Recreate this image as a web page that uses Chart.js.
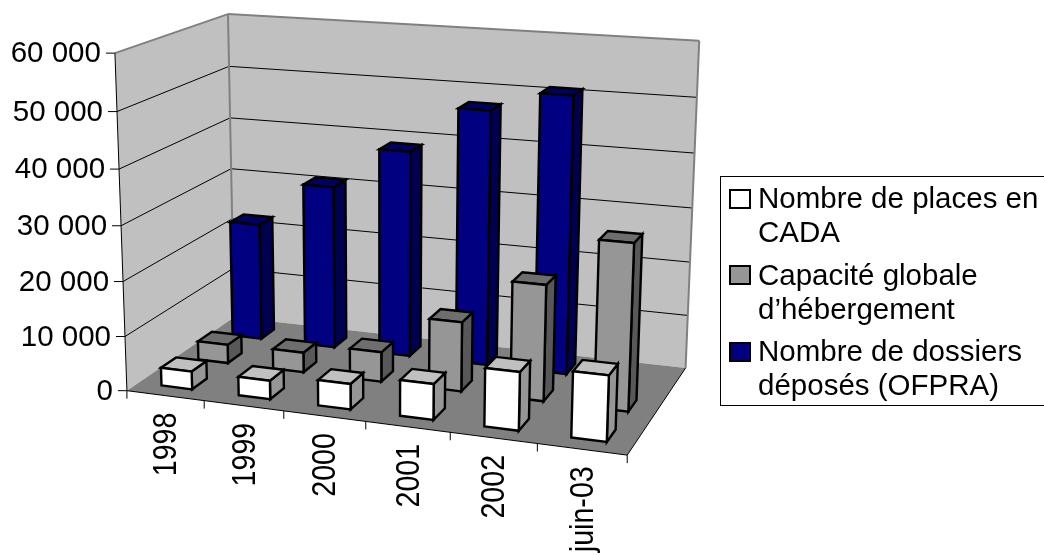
<!DOCTYPE html>
<html lang="fr">
<head>
  <meta charset="UTF-8">
  <title>Demandeurs d'asile et places d'hébergement</title>
  <style>
    html, body { margin: 0; padding: 0; background: #fff; overflow: hidden; }
    canvas { display: block; }
  </style>
  <script src="https://cdn.jsdelivr.net/npm/chart.js"></script>
</head>
<body>
  <canvas id="chart" width="1044" height="555"></canvas>

  <script>
    const categories = ['1998', '1999', '2000', '2001', '2002', 'juin-03'];
    const placesCada = [3300, 3400, 4600, 6400, 10300, 11500];
    const capaciteGlobale = [3500, 3700, 5500, 12700, 21000, 29800];
    const dossiersOfpra = [22400, 30900, 38700, 47300, 51000, null];
    const seriesNames = ['Nombre de places en CADA', 'Capacité globale d’hébergement', 'Nombre de dossiers déposés (OFPRA)'];
    const legendLines = [['Nombre de places en', 'CADA'], ['Capacité globale', 'd’hébergement'], ['Nombre de dossiers', 'déposés (OFPRA)']];
    const yTicks = [0, 10000, 20000, 30000, 40000, 50000, 60000];

    const frontColors = ['#ffffff', '#969696', '#000080'];
    const sideColors = ['#969696', '#585858', '#000050'];
    const topColors = ['#c0c0c0', '#6e6e6e', '#000060'];

    const FONT = '29.5px "Liberation Sans", Arial, sans-serif';
    const BAR_WIDTH = 0.4;   // share of a category
    const BAR_DEPTH = 0.4;   // share of a depth row

    // box corners: [across, depth, height] -> canvas position
    const anchors = [
      [0, 0, 0, 128, 390], [1, 0, 0, 627, 456],
      [0, 1, 0, 233, 318], [1, 1, 0, 686, 367],
      [0, 0, 1, 114, 53], [0, 1, 1, 229, 14], [1, 1, 1, 699, 41]
    ];

    // least squares fit of a perspective camera through the box corners
    function solveCamera(pts) {
      const rows = [], rhs = [];
      pts.forEach(([X, Y, Z, x, y]) => {
        rows.push([X, Y, Z, 1, 0, 0, 0, 0, -x * X, -x * Y, -x * Z]); rhs.push(x);
        rows.push([0, 0, 0, 0, X, Y, Z, 1, -y * X, -y * Y, -y * Z]); rhs.push(y);
      });
      const n = 11;
      const m = [];
      for (let i = 0; i < n; i++) {
        m[i] = [];
        for (let j = 0; j < n; j++) m[i][j] = rows.reduce((s, r) => s + r[i] * r[j], 0);
        m[i][n] = rows.reduce((s, r, k) => s + r[i] * rhs[k], 0);
      }
      for (let c = 0; c < n; c++) {
        let p = c;
        for (let r = c + 1; r < n; r++) if (Math.abs(m[r][c]) > Math.abs(m[p][c])) p = r;
        [m[c], m[p]] = [m[p], m[c]];
        for (let r = 0; r < n; r++) {
          if (r === c) continue;
          const f = m[r][c] / m[c][c];
          for (let k = c; k <= n; k++) m[r][k] -= f * m[c][k];
        }
      }
      return m.map((row, i) => row[n] / row[i]);
    }

    const cam = solveCamera(anchors);

    function project(u, w, h) {
      const d = cam[8] * u + cam[9] * w + cam[10] * h + 1;
      return [
        (cam[0] * u + cam[1] * w + cam[2] * h + cam[3]) / d,
        (cam[4] * u + cam[5] * w + cam[6] * h + cam[7]) / d
      ];
    }

    function quad(ctx, pts, fill) {
      ctx.beginPath();
      pts.forEach((p, i) => i ? ctx.lineTo(p[0], p[1]) : ctx.moveTo(p[0], p[1]));
      ctx.closePath();
      if (fill) { ctx.fillStyle = fill; ctx.fill(); }
      ctx.stroke();
    }

    function seg(ctx, a, b, color, width) {
      ctx.strokeStyle = color;
      ctx.lineWidth = width;
      ctx.beginPath();
      ctx.moveTo(a[0], a[1]);
      ctx.lineTo(b[0], b[1]);
      ctx.stroke();
    }

    // scale positions as fractions of the box
    const fracY = (chart, v) => {
      const s = chart.scales.y;
      return (s.bottom - s.getPixelForValue(v)) / s.height;
    };
    const fracX = (chart, i) => {
      const s = chart.scales.x;
      return (s.getPixelForValue(i) - s.left) / s.width;
    };

    const box3d = {
      id: 'box3d',
      beforeDatasetsDraw(chart) {
        const ctx = chart.ctx;
        ctx.save();
        ctx.lineJoin = 'miter';

        // walls and floor
        ctx.lineWidth = 0;
        ctx.strokeStyle = 'rgba(0,0,0,0)';
        quad(ctx, [project(0, 0, 0), project(0, 1, 0), project(0, 1, 1), project(0, 0, 1)], '#c0c0c0');
        quad(ctx, [project(0, 1, 0), project(1, 1, 0), project(1, 1, 1), project(0, 1, 1)], '#c0c0c0');
        quad(ctx, [project(0, 0, 0), project(1, 0, 0), project(1, 1, 0), project(0, 1, 0)], '#808080');

        // gridlines
        chart.scales.y.ticks.forEach(t => {
          if (t.value === 0 || t.value === 60000) return;
          const h = fracY(chart, t.value);
          seg(ctx, project(0, 0, h), project(0, 1, h), '#000', 1);
          seg(ctx, project(0, 1, h), project(1, 1, h), '#000', 1);
        });

        // frame edges
        seg(ctx, project(0, 0, 1), project(0, 1, 1), '#808080', 2);
        seg(ctx, project(0, 1, 1), project(1, 1, 1), '#808080', 2);
        seg(ctx, project(0, 1, 0), project(0, 1, 1), '#808080', 2);
        seg(ctx, project(1, 1, 0), project(1, 1, 1), '#808080', 2);
        seg(ctx, project(0, 0, 0), project(0, 0, 1), '#000', 1);
        seg(ctx, project(0, 0, 0), project(1, 0, 0), '#000', 1);
        seg(ctx, project(1, 0, 0), project(1, 1, 0), '#000', 1);

        // value axis ticks and labels
        ctx.font = FONT;
        ctx.fillStyle = '#000';
        ctx.textAlign = 'right';
        ctx.textBaseline = 'middle';
        chart.scales.y.ticks.forEach(t => {
          const p = project(0, 0, fracY(chart, t.value));
          seg(ctx, [p[0] - 9, p[1]], p, '#000', 1);
          ctx.fillText(t.label, p[0] - 14, p[1] + 1);
        });

        // category axis ticks and rotated labels
        const n = categories.length;
        for (let i = 0; i <= n; i++) {
          const p = project(i / n, 0, 0);
          seg(ctx, p, [p[0], p[1] + 8], '#000', 1);
        }
        categories.forEach((c, i) => {
          const p = project(fracX(chart, i), 0, 0);
          ctx.save();
          ctx.translate(p[0] + 2, p[1] + 17);
          ctx.rotate(-Math.PI / 2);
          ctx.scale(0.97, 1.1);
          ctx.textAlign = 'right';
          ctx.textBaseline = 'middle';
          ctx.fillStyle = '#000';
          ctx.fillText(c, 0, 0);
          ctx.restore();
        });
        ctx.restore();
      },
      beforeDatasetDraw(chart, args) {
        const ctx = chart.ctx;
        const ds = chart.data.datasets[args.index];
        const n = categories.length;
        const rows = chart.data.datasets.length;
        const w0 = (args.index + 0.5 - BAR_DEPTH / 2) / rows;
        const w1 = (args.index + 0.5 + BAR_DEPTH / 2) / rows;
        ctx.save();
        ctx.strokeStyle = '#000';
        ctx.lineWidth = 2.4;
        ctx.lineJoin = 'miter';
        ds.data.forEach((v, i) => {
          if (v === null) return;
          const c = fracX(chart, i);
          const u0 = c - BAR_WIDTH / n / 2;
          const u1 = c + BAR_WIDTH / n / 2;
          const h = fracY(chart, v);
          quad(ctx, [project(u1, w0, 0), project(u1, w1, 0), project(u1, w1, h), project(u1, w0, h)], sideColors[args.index]);
          quad(ctx, [project(u0, w0, h), project(u1, w0, h), project(u1, w1, h), project(u0, w1, h)], topColors[args.index]);
          quad(ctx, [project(u0, w0, 0), project(u1, w0, 0), project(u1, w0, h), project(u0, w0, h)], ds.backgroundColor);
        });
        ctx.restore();
        return false;
      },
      afterDraw(chart) {
        const ctx = chart.ctx;
        ctx.save();
        ctx.strokeStyle = '#000';
        ctx.lineWidth = 1;
        ctx.strokeRect(720.5, 176.5, 330, 229);
        const swatchY = [190, 266, 343];
        const lineY = [[200, 234], [277, 311], [353, 387]];
        ctx.font = FONT;
        ctx.textAlign = 'left';
        ctx.textBaseline = 'middle';
        chart.data.datasets.forEach((ds, i) => {
          ctx.lineWidth = 2;
          ctx.fillStyle = ds.backgroundColor;
          ctx.fillRect(730, swatchY[i], 20, 18);
          ctx.strokeRect(730, swatchY[i], 20, 18);
          ctx.fillStyle = '#000';
          legendLines[i].forEach((line, k) => ctx.fillText(line, 758, lineY[i][k]));
        });
        ctx.restore();
      }
    };

    const datasets = [placesCada, capaciteGlobale, dossiersOfpra].map((data, i) => ({
      label: seriesNames[i],
      data,
      backgroundColor: frontColors[i]
    }));

    new Chart(document.getElementById('chart'), {
      type: 'bar',
      data: { labels: categories, datasets },
      plugins: [box3d],
      options: {
        responsive: false,
        animation: false,
        layout: { padding: 0 },
        plugins: { legend: { display: false }, tooltip: { enabled: false } },
        scales: {
          x: { display: false, offset: true },
          y: {
            display: false,
            min: yTicks[0],
            max: yTicks[yTicks.length - 1],
            ticks: {
              stepSize: 10000,
              callback: v => v === 0 ? '0' : String(v).replace(/(\d)(\d{3})$/, '$1 $2')
            }
          }
        }
      }
    });
  </script>
</body>
</html>
